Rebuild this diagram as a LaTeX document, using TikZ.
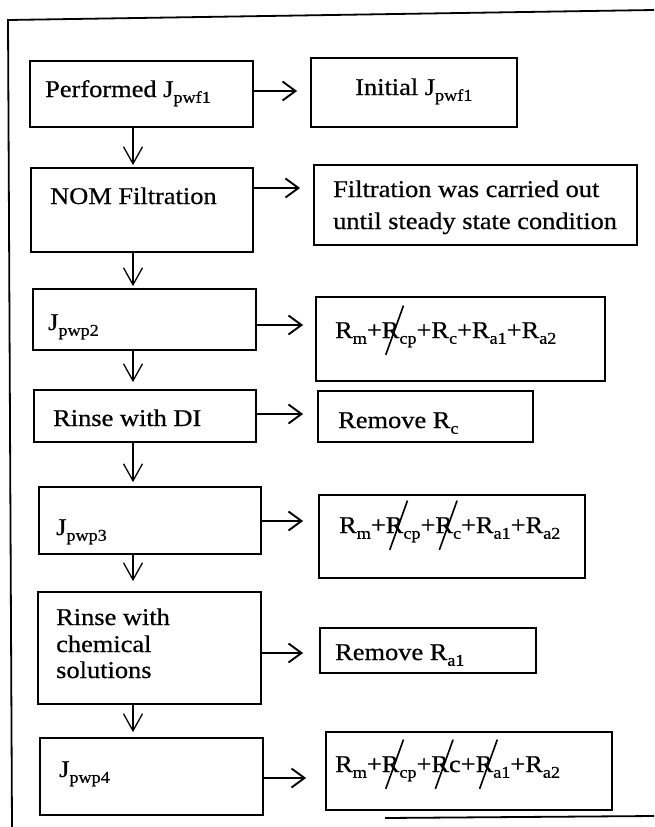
\documentclass[tikz,border=0pt]{standalone}
\usepackage{fontspec}
\setmainfont{Liberation Serif}[FakeBold=0.6]
\usetikzlibrary{arrows.meta}
\newcommand{\sbs}[1]{\raisebox{-0.24em}{\fontsize{16.5}{17}\selectfont #1}}
\newcommand{\st}[1]{\scalebox{1.1}[1]{#1}}
\newcommand{\xR}{\makebox[0pt][l]{\tikz[overlay,baseline=0pt]\draw[line width=1.5pt] (0.15em,-0.7em) -- (0.82em,1.35em);}R}
\begin{document}
\begin{tikzpicture}[x=1pt,y=-1pt,
  box/.style={draw,line width=1.8pt,inner sep=0pt},
  txt/.style={anchor=base west,inner sep=0pt,font=\fontsize{24}{28}\selectfont},
  harr/.style={line width=1.9pt,-{Straight Barb[length=13pt,width=19pt]}},
  varr/.style={line width=1.3pt,-{Straight Barb[length=17pt,width=19pt]}}]
\useasboundingbox (0,0) rectangle (654,827);
% frame
\draw[line width=1.8pt] (654,10) -- (8,20) -- (12,827);
\draw[line width=1.8pt] (385,818) -- (654,816);
% boxes
\node[box,minimum width=223pt,minimum height=66pt] (b1) at (141.5,94) {};
\node[box,minimum width=206pt,minimum height=69pt] (i1) at (414,92.5) {};
\node[box,minimum width=222pt,minimum height=84pt] (b2) at (142,210) {};
\node[box,minimum width=323pt,minimum height=80pt] (f2) at (475.5,205) {};
\node[box,minimum width=223pt,minimum height=61pt] (b3) at (144.5,319.5) {};
\node[box,minimum width=289pt,minimum height=84pt] (r3) at (460.5,339) {};
\node[box,minimum width=222pt,minimum height=52pt] (b4) at (145,416) {};
\node[box,minimum width=215pt,minimum height=51pt] (r4) at (425.5,416.5) {};
\node[box,minimum width=222pt,minimum height=67pt] (b5) at (150,520.5) {};
\node[box,minimum width=266pt,minimum height=83pt] (r5) at (452,536.5) {};
\node[box,minimum width=223pt,minimum height=112pt] (b6) at (149.5,648) {};
\node[box,minimum width=216pt,minimum height=45pt] (r6) at (428,650.5) {};
\node[box,minimum width=223pt,minimum height=77pt] (b7) at (151.5,776.5) {};
\node[box,minimum width=286pt,minimum height=78pt] (r7) at (469,771) {};
% texts
\node[txt] (t1) at (45,97) {\st{Performed J\sbs{pwf1}}};
\node[txt] (t1b) at (355,95) {\st{Initial J\sbs{pwf1}}};
\node[txt] (t2) at (50,204) {\st{NOM Filtration}};
\node[txt] (t2a) at (333,197) {\st{Filtration was carried out}};
\node[txt] (t2b) at (333,229) {\st{until steady state condition}};
\node[txt] (t3) at (48,330) {\st{J\sbs{pwp2}}};
\node[txt] (t3b) at (335,338) {\st{R\sbs{m}+\xR\sbs{cp}+R\sbs{c}+R\sbs{a1}+R\sbs{a2}}};
\node[txt] (t4) at (53,426) {\st{Rinse with DI}};
\node[txt] (t4b) at (338,428) {\st{Remove R\sbs{c}}};
\node[txt] (t5) at (56,535) {\st{J\sbs{pwp3}}};
\node[txt] (t5b) at (339,533) {\st{R\sbs{m}+\xR\sbs{cp}+\xR\sbs{c}+R\sbs{a1}+R\sbs{a2}}};
\node[txt] (t6a) at (56,625) {\st{Rinse with}};
\node[txt] (t6b) at (56,652) {\st{chemical}};
\node[txt] (t6c) at (56,678) {\st{solutions}};
\node[txt] (t6d) at (335,660) {\st{Remove R\sbs{a1}}};
\node[txt] (t7) at (59,777) {\st{J\sbs{pwp4}}};
\node[txt] (t7b) at (335,772) {\st{R\sbs{m}+\xR\sbs{cp}+\xR c+\xR\sbs{a1}+R\sbs{a2}}};
% horizontal arrows
\draw[harr,shorten >=13pt] (b1.east |- 0,91) -- (i1.west |- 0,91);
\draw[harr,shorten >=13pt] (b2.east |- 0,188) -- (f2.west |- 0,188);
\draw[harr,shorten >=12pt] (b3.east |- 0,325) -- (r3.west |- 0,325);
\draw[harr,shorten >=14pt] (b4.east |- 0,414) -- (r4.west |- 0,414);
\draw[harr,shorten >=15pt] (b5.east |- 0,521) -- (r5.west |- 0,521);
\draw[harr,shorten >=16pt] (b6.east |- 0,653) -- (r6.west |- 0,653);
\draw[harr,shorten >=19pt] (b7.east |- 0,778) -- (r7.west |- 0,778);
% vertical arrows
\draw[varr,shorten >=2pt] (b1.south -| 133,0) -- (b2.north -| 133,0);
\draw[varr,shorten >=2pt] (b2.south -| 133,0) -- (b3.north -| 133,0);
\draw[varr,shorten >=7pt] (b3.south -| 133,0) -- (b4.north -| 133,0);
\draw[varr,shorten >=4pt] (b4.south -| 133,0) -- (b5.north -| 133,0);
\draw[varr,shorten >=10pt] (b5.south -| 133,0) -- (b6.north -| 133,0);
\draw[varr,shorten >=5pt] (b6.south -| 133,0) -- (b7.north -| 133,0);
\end{tikzpicture}
\end{document}
